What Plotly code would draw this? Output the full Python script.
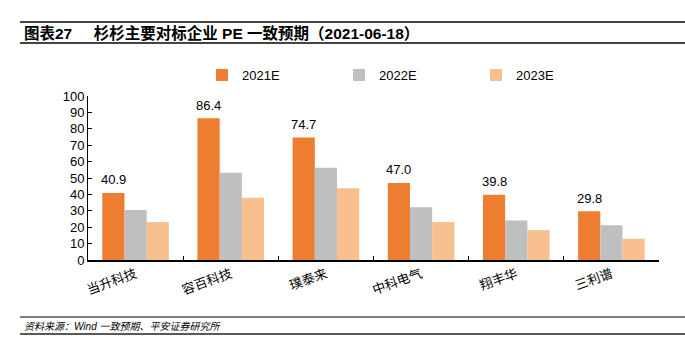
import plotly.graph_objects as go

categories = ["当升科技", "容百科技", "璞泰来", "中科电气", "翔丰华", "三利谱"]
pe_2021 = [40.9, 86.4, 74.7, 47.0, 39.8, 29.8]
pe_2022 = [30.5, 53.2, 56.3, 32.2, 24.1, 21.2]
pe_2023 = [23.1, 38.0, 43.7, 23.1, 18.2, 13.0]
series_names = ["2021E", "2022E", "2023E"]
colors = ["#ED7D31", "#BFBFBF", "#F8C08F"]

W, H = 685, 352
L, R, T, B = 88, 26, 96, 92
pw, ph = W - L - R, H - T - B
FONT = "Liberation Sans, Arial, Noto Sans CJK SC"
CJK = "Liberation Sans, Noto Sans CJK SC"

def px_x(px):
    return (px - L) / pw

def px_y(py):
    return (H - B - py) / ph

fig = go.Figure()
for name, vals, c in zip(series_names, [pe_2021, pe_2022, pe_2023], colors):
    fig.add_trace(go.Bar(x=categories, y=vals, name=name, marker=dict(color=c, line=dict(width=0))))

bargap = 0.3
bw = pw / len(categories) * (1 - bargap) / 3
annotations = []
for cat, v in zip(categories, pe_2021):
    annotations.append(dict(x=cat, y=v, xref="x", yref="y", text=f"{v:.1f}", showarrow=False,
                            xshift=-bw, yshift=13, yanchor="middle",
                            font=dict(size=13, color="#000", family=FONT)))

annotations.append(dict(x=px_x(22), y=px_y(33), xref="paper", yref="paper", xanchor="left", yanchor="middle",
                        text="<b>图表27     杉杉主要对标企业 PE 一致预期（2021-06-18）</b>", showarrow=False,
                        font=dict(size=15.5, color="#000", family=CJK)))
annotations.append(dict(x=px_x(22), y=px_y(326), xref="paper", yref="paper", xanchor="left", yanchor="middle",
                        text="<i>资料来源：Wind 一致预期、平安证券研究所</i>", showarrow=False,
                        font=dict(size=10, color="#000", family=CJK)))

shapes = []
for py, wd, col in [(22, 2, "#444"), (43, 2, "#444"), (317, 1.5, "#555"), (334, 1.5, "#222")]:
    shapes.append(dict(type="line", xref="paper", yref="paper", x0=px_x(20), x1=px_x(685),
                       y0=px_y(py), y1=px_y(py), line=dict(color=col, width=wd)))

fig.update_layout(
    width=W, height=H, margin=dict(l=L, r=R, t=T, b=B),
    paper_bgcolor="white", plot_bgcolor="white",
    barmode="group", bargap=bargap, bargroupgap=0,
    font=dict(family=FONT, size=13, color="#000"),
    showlegend=True,
    legend=dict(orientation="h", x=px_x(202), y=px_y(75), xanchor="left", yanchor="middle",
                xref="paper", yref="paper",
                entrywidth=92, entrywidthmode="pixels", itemwidth=30,
                font=dict(size=13, color="#000", family=FONT), bgcolor="rgba(0,0,0,0)"),
    annotations=annotations, shapes=shapes,
    xaxis=dict(showline=True, linecolor="#000", linewidth=1.5, ticks="inside", tickson="boundaries",
               ticklen=4, tickcolor="#000", tickangle=-20, showgrid=False,
               tickfont=dict(size=13, family=CJK, color="#000")),
    yaxis=dict(range=[0, 100], dtick=10, showline=True, linecolor="#000", linewidth=1, ticks="inside",
               ticklen=4, tickcolor="#000", showgrid=False, zeroline=False,
               tickfont=dict(size=13, family=FONT, color="#000")),
)

fig.write_html("out.html")
